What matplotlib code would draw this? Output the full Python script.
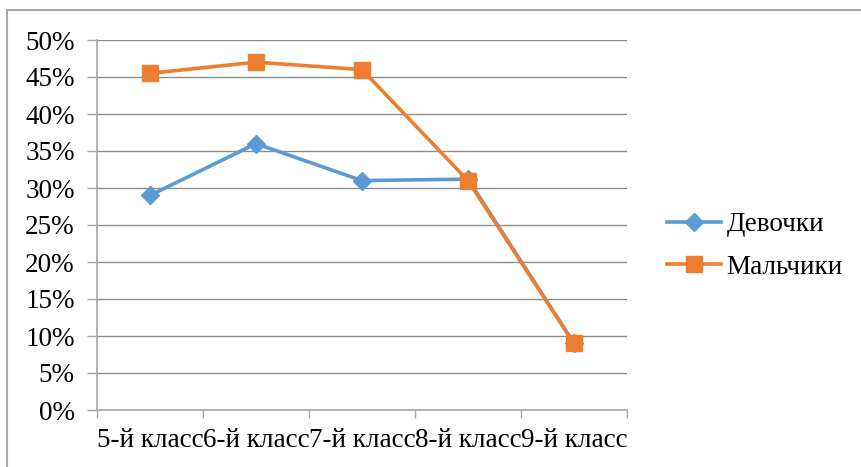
import matplotlib
matplotlib.use("Agg")
import matplotlib.pyplot as plt
from matplotlib.lines import Line2D
from matplotlib.ticker import FuncFormatter, FixedLocator

categories = ["5-й класс", "6-й класс", "7-й класс", "8-й класс", "9-й класс"]
girls = [29.0, 36.0, 31.0, 31.2, 9.0]
boys = [45.5, 47.0, 46.0, 31.0, 9.0]
series_names = ["Девочки", "Мальчики"]

plt.rcParams['font.family'] = ['Liberation Serif', 'DejaVu Serif']

W, H = 861, 467
fig = plt.figure(figsize=(W / 100, H / 100), dpi=100)
ax = fig.add_axes([97 / W, 1 - 410 / H, (627 - 97) / W, (410 - 40) / H])

x = list(range(len(categories)))
ax.plot(x, girls, color='#5B9BD5', lw=2.6, marker='D', markersize=9,
        label=series_names[0], zorder=3)
ax.plot(x, boys, color='#ED7D31', lw=2.6, marker='s', markersize=11.5,
        label=series_names[1], zorder=4)

ax.set_xlim(-0.5, len(categories) - 0.5)
ax.set_ylim(0, 50)
ax.set_yticks(range(0, 51, 5))
ax.yaxis.set_major_formatter(FuncFormatter(lambda v, p: f"{int(v)}%"))
ax.grid(axis='y', color='#8c8c8c', lw=1.0)
ax.set_axisbelow(True)

ax.set_xticks(x)
ax.set_xticklabels(categories)
ax.xaxis.set_minor_locator(FixedLocator([i - 0.5 for i in range(len(categories) + 1)]))
ax.tick_params(axis='x', which='major', length=0, pad=13, labelsize=19.5)
ax.tick_params(axis='x', which='minor', length=6, width=1, color='#a6a6a6')
ax.tick_params(axis='y', length=7, width=1, color='#a6a6a6', labelsize=19.5, pad=9)

for s in ['top', 'right']:
    ax.spines[s].set_visible(False)
for s in ['left', 'bottom']:
    ax.spines[s].set_color('#a6a6a6')
    ax.spines[s].set_linewidth(1.2)

leg = fig.legend(loc='center left', bbox_to_anchor=(667 / W, 1 - 246 / H),
                 frameon=False, fontsize=19.5, handlelength=2.0,
                 labelspacing=0.65, handletextpad=0.2, borderpad=0,
                 borderaxespad=0)

# outer border of chart area
fig.add_artist(Line2D([7 / W, 7 / W, 1], [0, 1 - 10 / H, 1 - 10 / H],
                      color='#a6a6a6', lw=1.5, transform=fig.transFigure))

fig.savefig("out.png", dpi=100, facecolor='white')
